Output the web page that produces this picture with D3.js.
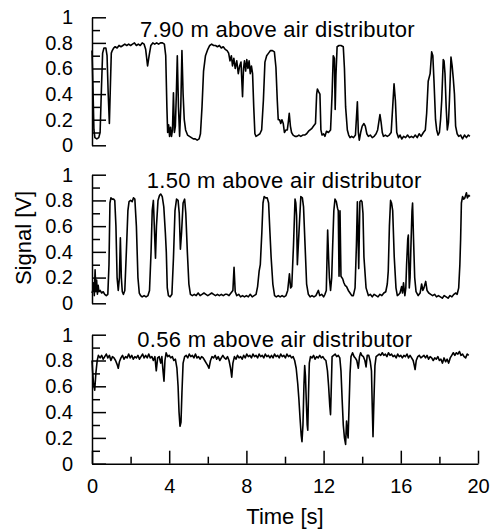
<!DOCTYPE html>
<html>
<head>
<meta charset="utf-8">
<script src="https://cdn.jsdelivr.net/npm/d3@7"></script>
<style>
  body { margin: 0; background: #fff; }
  svg { display: block; font-family: "Liberation Sans", Arial, sans-serif; }
  .axis path, .axis line { stroke: #000; stroke-width: 1.5; }
  .axis text { font-size: 20px; fill: #000; }
</style>
</head>
<body>
<svg id="chart" width="491" height="530"></svg>
<script>
// ******************** Data ************************
var timeTicks = [0, 4, 8, 12, 16, 20];
var timeMinor = [2, 6, 10, 14, 18];
var signalTicks = [0, 0.2, 0.4, 0.6, 0.8, 1];
var signalMinor = [0.1, 0.3, 0.5, 0.7, 0.9];
var panelTitles = ["7.90 m above air distributor", "1.50 m above air distributor", "0.56 m above air distributor"];

// [time s, signal V]
var signal790 = [
  [0.00,0.74],[0.05,0.45],[0.10,0.12],[0.15,0.06],[0.25,0.05],[0.35,0.06],[0.42,0.10],[0.48,0.40],
  [0.55,0.72],[0.62,0.76],[0.72,0.76],[0.78,0.70],[0.84,0.40],[0.90,0.17],[0.95,0.45],[1.00,0.72],
  [1.05,0.74],[1.12,0.76],[1.20,0.77],[1.30,0.76],[1.40,0.78],[1.50,0.77],[1.60,0.78],[1.70,0.79],
  [1.80,0.78],[1.90,0.79],[2.00,0.78],[2.10,0.79],[2.20,0.80],[2.30,0.78],[2.40,0.79],[2.50,0.78],
  [2.60,0.80],[2.70,0.79],[2.78,0.75],[2.88,0.62],[2.96,0.70],[3.05,0.78],[3.15,0.80],[3.25,0.79],
  [3.35,0.80],[3.45,0.79],[3.55,0.80],[3.65,0.80],[3.75,0.79],[3.82,0.70],[3.88,0.30],[3.92,0.10],
  [3.97,0.16],[4.02,0.07],[4.07,0.14],[4.12,0.07],[4.17,0.12],[4.22,0.41],[4.27,0.10],[4.32,0.15],
  [4.37,0.40],[4.42,0.70],[4.48,0.30],[4.54,0.07],[4.60,0.30],[4.66,0.74],[4.72,0.40],[4.78,0.20],
  [4.85,0.12],[4.95,0.08],[5.05,0.07],[5.15,0.06],[5.25,0.05],[5.35,0.05],[5.45,0.04],[5.55,0.05],
  [5.62,0.09],[5.70,0.30],[5.78,0.58],[5.88,0.70],[6.00,0.75],[6.10,0.78],[6.20,0.79],[6.30,0.78],
  [6.40,0.78],[6.50,0.77],[6.60,0.78],[6.70,0.76],[6.80,0.77],[6.90,0.75],[7.00,0.74],[7.08,0.72],
  [7.15,0.66],[7.22,0.70],[7.28,0.62],[7.35,0.68],[7.42,0.60],[7.50,0.66],[7.58,0.56],[7.65,0.62],
  [7.72,0.65],[7.80,0.38],[7.85,0.60],[7.90,0.66],[7.96,0.58],[8.02,0.67],[8.08,0.60],[8.14,0.66],
  [8.20,0.56],[8.26,0.62],[8.32,0.56],[8.38,0.30],[8.44,0.09],[8.50,0.07],[8.60,0.08],[8.70,0.09],
  [8.79,0.12],[8.88,0.35],[8.96,0.65],[9.05,0.70],[9.15,0.72],[9.25,0.74],[9.35,0.74],[9.45,0.73],
  [9.53,0.61],[9.60,0.35],[9.65,0.20],[9.72,0.20],[9.78,0.17],[9.84,0.20],[9.91,0.17],[9.97,0.10],
  [10.05,0.12],[10.12,0.12],[10.17,0.18],[10.22,0.25],[10.28,0.15],[10.34,0.10],[10.42,0.08],
  [10.52,0.07],[10.62,0.07],[10.72,0.08],[10.82,0.07],[10.92,0.08],[11.02,0.08],[11.12,0.09],
  [11.22,0.11],[11.30,0.12],[11.38,0.13],[11.48,0.15],[11.58,0.17],[11.64,0.40],[11.68,0.44],
  [11.74,0.42],[11.81,0.40],[11.86,0.12],[11.92,0.08],[12.00,0.09],[12.07,0.07],[12.15,0.11],
  [12.25,0.10],[12.36,0.12],[12.44,0.40],[12.50,0.70],[12.56,0.68],[12.60,0.28],[12.64,0.55],
  [12.70,0.77],[12.80,0.78],[12.90,0.78],[13.02,0.77],[13.08,0.60],[13.14,0.30],[13.23,0.12],
  [13.30,0.08],[13.37,0.06],[13.45,0.07],[13.55,0.06],[13.65,0.08],[13.75,0.34],[13.80,0.10],
  [13.85,0.04],[13.92,0.10],[14.00,0.15],[14.09,0.17],[14.16,0.15],[14.24,0.09],[14.32,0.07],
  [14.42,0.08],[14.52,0.06],[14.62,0.07],[14.72,0.09],[14.80,0.12],[14.88,0.20],[14.92,0.24],
  [14.98,0.18],[15.04,0.10],[15.10,0.07],[15.20,0.08],[15.30,0.07],[15.40,0.08],[15.50,0.10],
  [15.58,0.30],[15.65,0.48],[15.72,0.35],[15.79,0.10],[15.88,0.06],[15.96,0.08],[16.05,0.05],
  [16.15,0.07],[16.25,0.06],[16.35,0.08],[16.45,0.06],[16.55,0.07],[16.65,0.06],[16.75,0.08],
  [16.85,0.06],[16.95,0.09],[17.05,0.07],[17.17,0.10],[17.27,0.12],[17.34,0.25],[17.42,0.50],
  [17.52,0.56],[17.60,0.73],[17.66,0.70],[17.72,0.50],[17.80,0.20],[17.86,0.12],[17.93,0.08],
  [18.00,0.10],[18.06,0.20],[18.12,0.35],[18.20,0.67],[18.24,0.66],[18.29,0.56],[18.35,0.30],
  [18.41,0.12],[18.47,0.18],[18.52,0.35],[18.60,0.69],[18.66,0.62],[18.72,0.52],[18.78,0.40],
  [18.84,0.15],[18.92,0.09],[19.00,0.07],[19.10,0.08],[19.20,0.05],[19.30,0.08],[19.40,0.06],
  [19.50,0.08],[19.58,0.07]
];

var signal150 = [
  [0.00,0.08],[0.04,0.10],[0.08,0.16],[0.12,0.06],[0.16,0.26],[0.20,0.09],[0.24,0.18],[0.28,0.07],
  [0.32,0.14],[0.36,0.09],[0.42,0.10],[0.50,0.08],[0.58,0.09],[0.66,0.07],[0.74,0.06],[0.82,0.07],
  [0.88,0.30],[0.93,0.78],[0.98,0.82],[1.05,0.81],[1.12,0.81],[1.18,0.80],[1.24,0.60],[1.30,0.20],
  [1.36,0.10],[1.42,0.20],[1.47,0.51],[1.52,0.20],[1.57,0.09],[1.63,0.07],[1.70,0.10],[1.78,0.40],
  [1.86,0.72],[1.92,0.79],[2.00,0.80],[2.08,0.79],[2.15,0.82],[2.22,0.81],[2.30,0.60],[2.38,0.20],
  [2.45,0.08],[2.52,0.06],[2.60,0.05],[2.70,0.06],[2.80,0.05],[2.90,0.06],[2.98,0.10],[3.06,0.40],
  [3.12,0.72],[3.18,0.80],[3.24,0.55],[3.29,0.35],[3.34,0.60],[3.42,0.80],[3.50,0.84],[3.56,0.85],
  [3.64,0.83],[3.72,0.75],[3.80,0.55],[3.85,0.40],[3.90,0.12],[3.96,0.06],[4.05,0.05],[4.14,0.07],
  [4.22,0.35],[4.30,0.72],[4.38,0.81],[4.46,0.80],[4.52,0.70],[4.58,0.42],[4.64,0.55],[4.72,0.78],
  [4.80,0.81],[4.86,0.70],[4.94,0.40],[5.02,0.15],[5.10,0.07],[5.20,0.06],[5.30,0.07],[5.40,0.06],
  [5.50,0.08],[5.60,0.06],[5.70,0.07],[5.80,0.08],[5.90,0.07],[6.00,0.06],[6.10,0.07],[6.20,0.08],
  [6.30,0.07],[6.40,0.06],[6.50,0.07],[6.60,0.06],[6.70,0.07],[6.80,0.06],[6.90,0.07],[7.00,0.07],
  [7.10,0.06],[7.20,0.08],[7.30,0.10],[7.36,0.28],[7.42,0.09],[7.50,0.06],[7.60,0.07],[7.70,0.05],
  [7.80,0.06],[7.90,0.05],[8.00,0.06],[8.10,0.05],[8.20,0.07],[8.30,0.05],[8.40,0.06],[8.50,0.07],
  [8.58,0.13],[8.66,0.25],[8.72,0.30],[8.80,0.55],[8.86,0.78],[8.92,0.83],[9.00,0.82],[9.08,0.82],
  [9.15,0.78],[9.22,0.55],[9.28,0.36],[9.37,0.15],[9.46,0.06],[9.55,0.05],[9.65,0.06],[9.75,0.05],
  [9.85,0.06],[9.95,0.05],[10.05,0.06],[10.14,0.10],[10.23,0.23],[10.29,0.12],[10.35,0.13],
  [10.44,0.45],[10.52,0.81],[10.56,0.78],[10.60,0.68],[10.64,0.30],[10.74,0.60],[10.82,0.83],
  [10.90,0.82],[10.96,0.75],[11.04,0.45],[11.12,0.15],[11.21,0.07],[11.30,0.05],[11.40,0.06],
  [11.50,0.05],[11.60,0.06],[11.73,0.10],[11.80,0.06],[11.90,0.07],[12.00,0.05],[12.07,0.07],
  [12.14,0.10],[12.21,0.57],[12.26,0.35],[12.30,0.20],[12.36,0.10],[12.42,0.20],[12.47,0.45],
  [12.53,0.72],[12.59,0.81],[12.66,0.79],[12.72,0.74],[12.76,0.72],[12.80,0.21],[12.85,0.72],
  [12.90,0.21],[12.99,0.19],[13.05,0.16],[13.11,0.14],[13.19,0.13],[13.28,0.10],[13.37,0.08],
  [13.46,0.06],[13.54,0.06],[13.63,0.12],[13.70,0.45],[13.75,0.79],[13.82,0.27],[13.88,0.79],
  [13.94,0.80],[13.99,0.79],[14.04,0.70],[14.09,0.36],[14.20,0.12],[14.32,0.06],[14.42,0.07],
  [14.52,0.05],[14.62,0.07],[14.72,0.06],[14.82,0.05],[14.92,0.07],[15.02,0.06],[15.12,0.08],
  [15.22,0.09],[15.30,0.15],[15.35,0.25],[15.41,0.60],[15.47,0.80],[15.52,0.78],[15.58,0.72],
  [15.66,0.36],[15.75,0.12],[15.82,0.06],[15.90,0.07],[15.96,0.08],[16.04,0.13],[16.09,0.08],
  [16.14,0.16],[16.21,0.06],[16.26,0.12],[16.30,0.30],[16.36,0.50],[16.39,0.53],[16.44,0.12],
  [16.48,0.20],[16.53,0.47],[16.58,0.72],[16.61,0.78],[16.66,0.50],[16.72,0.20],[16.79,0.09],
  [16.90,0.06],[17.00,0.08],[17.08,0.15],[17.14,0.10],[17.20,0.12],[17.29,0.17],[17.36,0.10],
  [17.45,0.08],[17.55,0.07],[17.65,0.06],[17.75,0.07],[17.85,0.05],[17.95,0.06],[18.05,0.05],
  [18.15,0.04],[18.25,0.06],[18.35,0.05],[18.45,0.04],[18.55,0.06],[18.65,0.05],[18.75,0.07],
  [18.85,0.08],[18.92,0.07],[19.00,0.12],[19.06,0.30],[19.10,0.50],[19.14,0.78],[19.20,0.83],
  [19.26,0.81],[19.32,0.82],[19.40,0.86],[19.45,0.82],[19.52,0.84],[19.58,0.83]
];

var signal056 = [
  [0.00,0.80],[0.03,0.72],[0.08,0.62],[0.14,0.57],[0.20,0.70],[0.27,0.80],[0.33,0.84],[0.42,0.82],
  [0.50,0.84],[0.58,0.81],[0.66,0.83],[0.74,0.85],[0.82,0.82],[0.90,0.84],[0.98,0.80],[1.06,0.83],
  [1.14,0.82],[1.22,0.80],[1.30,0.77],[1.36,0.74],[1.42,0.79],[1.50,0.82],[1.58,0.84],[1.66,0.81],
  [1.74,0.83],[1.82,0.82],[1.90,0.85],[1.98,0.82],[2.06,0.84],[2.14,0.81],[2.22,0.83],[2.30,0.82],
  [2.38,0.84],[2.46,0.81],[2.54,0.83],[2.62,0.85],[2.70,0.82],[2.78,0.84],[2.86,0.82],[2.94,0.85],
  [3.02,0.82],[3.10,0.83],[3.18,0.80],[3.26,0.83],[3.33,0.72],[3.40,0.82],[3.48,0.83],[3.56,0.78],
  [3.62,0.83],[3.68,0.72],[3.73,0.64],[3.78,0.80],[3.84,0.86],[3.92,0.83],[4.00,0.84],[4.08,0.82],
  [4.16,0.83],[4.24,0.80],[4.32,0.81],[4.40,0.74],[4.46,0.60],[4.51,0.40],[4.56,0.29],[4.61,0.32],
  [4.66,0.55],[4.72,0.78],[4.80,0.83],[4.88,0.84],[4.96,0.82],[5.04,0.85],[5.12,0.83],[5.20,0.84],
  [5.28,0.82],[5.36,0.85],[5.44,0.82],[5.52,0.83],[5.60,0.81],[5.68,0.83],[5.76,0.82],[5.84,0.80],
  [5.92,0.78],[6.00,0.76],[6.06,0.74],[6.14,0.80],[6.22,0.83],[6.30,0.82],[6.38,0.84],[6.46,0.81],
  [6.54,0.83],[6.62,0.80],[6.70,0.82],[6.78,0.84],[6.86,0.82],[6.94,0.81],[7.02,0.83],[7.10,0.80],
  [7.18,0.74],[7.24,0.67],[7.30,0.78],[7.38,0.83],[7.46,0.81],[7.54,0.84],[7.62,0.82],[7.70,0.83],
  [7.78,0.81],[7.86,0.84],[7.94,0.82],[8.02,0.85],[8.10,0.83],[8.18,0.84],[8.26,0.82],[8.34,0.85],
  [8.42,0.83],[8.50,0.84],[8.58,0.82],[8.66,0.85],[8.74,0.83],[8.82,0.84],[8.90,0.82],[8.98,0.85],
  [9.06,0.83],[9.14,0.84],[9.22,0.82],[9.30,0.84],[9.38,0.82],[9.46,0.85],[9.54,0.83],[9.62,0.84],
  [9.70,0.82],[9.78,0.85],[9.86,0.83],[9.94,0.84],[10.02,0.82],[10.10,0.85],[10.18,0.83],
  [10.26,0.84],[10.34,0.82],[10.42,0.83],[10.50,0.80],[10.58,0.74],[10.66,0.62],[10.72,0.50],
  [10.78,0.35],[10.84,0.22],[10.88,0.17],[10.93,0.30],[10.98,0.60],[11.02,0.76],[11.06,0.68],
  [11.10,0.50],[11.15,0.30],[11.18,0.26],[11.22,0.55],[11.26,0.78],[11.32,0.83],[11.40,0.82],
  [11.48,0.84],[11.56,0.81],[11.64,0.83],[11.72,0.82],[11.80,0.84],[11.88,0.82],[11.96,0.83],
  [12.04,0.81],[12.12,0.80],[12.20,0.72],[12.26,0.60],[12.32,0.45],[12.36,0.38],[12.40,0.60],
  [12.44,0.83],[12.52,0.84],[12.60,0.85],[12.68,0.83],[12.76,0.84],[12.84,0.82],[12.90,0.72],
  [12.96,0.50],[13.02,0.30],[13.08,0.20],[13.14,0.15],[13.19,0.33],[13.23,0.25],[13.27,0.20],
  [13.32,0.45],[13.37,0.70],[13.42,0.83],[13.50,0.86],[13.58,0.83],[13.64,0.82],[13.72,0.80],
  [13.80,0.74],[13.86,0.83],[13.92,0.86],[13.98,0.84],[14.06,0.83],[14.14,0.80],[14.20,0.75],
  [14.26,0.84],[14.34,0.84],[14.42,0.79],[14.48,0.72],[14.52,0.45],[14.56,0.21],[14.60,0.45],
  [14.66,0.76],[14.72,0.83],[14.80,0.84],[14.88,0.85],[14.96,0.84],[15.04,0.86],[15.12,0.84],
  [15.20,0.85],[15.28,0.83],[15.36,0.86],[15.44,0.84],[15.52,0.85],[15.60,0.83],[15.68,0.84],
  [15.76,0.82],[15.84,0.85],[15.92,0.83],[16.00,0.84],[16.08,0.82],[16.16,0.84],[16.24,0.83],
  [16.32,0.85],[16.40,0.82],[16.48,0.84],[16.56,0.82],[16.64,0.80],[16.70,0.76],[16.74,0.73],
  [16.80,0.80],[16.88,0.83],[16.96,0.84],[17.04,0.82],[17.12,0.83],[17.20,0.84],[17.28,0.82],
  [17.36,0.84],[17.44,0.81],[17.52,0.83],[17.60,0.82],[17.68,0.80],[17.76,0.82],[17.84,0.81],
  [17.92,0.83],[18.00,0.80],[18.08,0.81],[18.16,0.78],[18.24,0.82],[18.32,0.79],[18.40,0.81],
  [18.48,0.78],[18.56,0.82],[18.64,0.84],[18.72,0.86],[18.80,0.84],[18.88,0.86],[18.96,0.85],
  [19.04,0.87],[19.12,0.84],[19.20,0.85],[19.28,0.83],[19.36,0.82],[19.44,0.85],[19.52,0.84]
];

var panelData = [signal790, signal150, signal056];

// ******************** Layout ************************
var panelTop = [17.3, 174.7, 334.7];
var panelHeight = [128, 128.6, 129];
var titlePos = [[140, 36.7], [146.7, 188.3], [137.3, 346.7]];

var svg = d3.select("#chart");
var x = d3.scaleLinear().domain([0, 20]).range([92, 478]);

var line = d3.line()
    .x(function (d) { return x(d[0]); });

panelData.forEach(function (data, i) {
    var y = d3.scaleLinear().domain([0, 1])
        .range([panelTop[i] + panelHeight[i], panelTop[i]]);

    // major ticks with labels, ticks pointing inwards
    svg.append("g")
        .attr("class", "axis")
        .attr("transform", "translate(" + x(0) + ",0)")
        .call(d3.axisLeft(y).tickValues(signalTicks)
            .tickSizeInner(-14).tickSizeOuter(0).tickPadding(19)
            .tickFormat(function (d) { return String(d); }));

    // minor ticks
    svg.append("g")
        .attr("class", "axis")
        .attr("transform", "translate(" + x(0) + ",0)")
        .call(d3.axisLeft(y).tickValues(signalMinor)
            .tickSizeInner(-8).tickSizeOuter(0).tickFormat(""))
        .select(".domain").remove();

    svg.append("path")
        .datum(data)
        .attr("fill", "none")
        .attr("stroke", "#000")
        .attr("stroke-width", 1.6)
        .attr("stroke-linejoin", "round")
        .attr("d", line.y(function (d) { return y(d[1]); }));

    svg.append("text")
        .attr("x", titlePos[i][0])
        .attr("y", titlePos[i][1])
        .style("font-size", "22px")
        .style("letter-spacing", "0.3px")
        .text(panelTitles[i]);
});

// time axis only under the bottom panel
var yBase = panelTop[2] + panelHeight[2];
svg.append("g")
    .attr("class", "axis")
    .attr("transform", "translate(0," + yBase + ")")
    .call(d3.axisBottom(x).tickValues(timeTicks)
        .tickSizeInner(-13).tickSizeOuter(0).tickPadding(15)
        .tickFormat(d3.format("d")));

svg.append("g")
    .attr("class", "axis")
    .attr("transform", "translate(0," + yBase + ")")
    .call(d3.axisBottom(x).tickValues(timeMinor)
        .tickSizeInner(-7).tickSizeOuter(0).tickFormat(""))
    .select(".domain").remove();

svg.append("text")
    .attr("x", 285)
    .attr("y", 524)
    .attr("text-anchor", "middle")
    .style("font-size", "22px")
    .text("Time [s]");

svg.append("text")
    .attr("transform", "translate(31,238) rotate(-90)")
    .attr("text-anchor", "middle")
    .style("font-size", "22px")
    .text("Signal [V]");
</script>
</body>
</html>
